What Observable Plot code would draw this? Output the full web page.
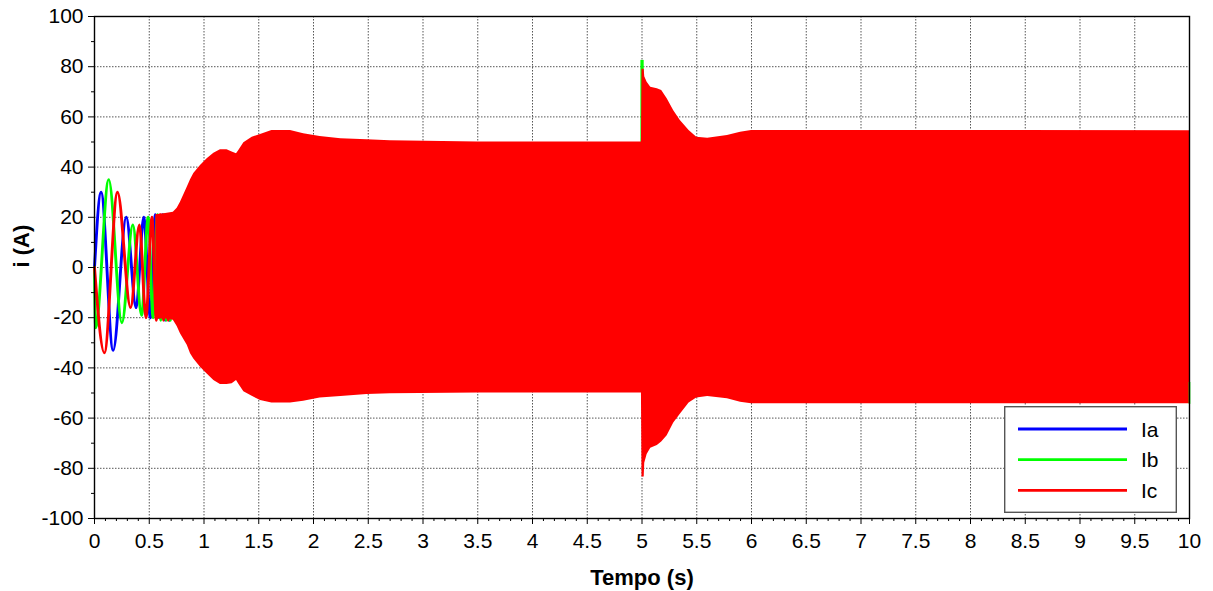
<!DOCTYPE html>
<html>
<head>
<meta charset="utf-8">
<script src="https://cdn.jsdelivr.net/npm/d3@7"></script>
<script src="https://cdn.jsdelivr.net/npm/@observablehq/plot@0.6"></script>
<style>
  html, body { margin: 0; padding: 0; background: white; }
  #wrap { position: relative; width: 1213px; height: 591px; font-family: "Liberation Sans", Arial, sans-serif; }
  #legend { position: absolute; left: 1004px; top: 406px; }
</style>
</head>
<body>
<div id="wrap"></div>
<script>
// ---- Data ----
// Early (start-up) oscillations: extremes of each phase current
const iaT = [0, 0.06, 0.17, 0.29, 0.38, 0.45, 0.51, 0.555, 0.59, 0.62, 0.645, 0.665, 0.683, 0.7];
const iaV = [0, 30, -33, 20, -16, 20, -20, 21, -20, 21, -21, 21, -21, 21];
const ibT = [0, 0.01, 0.13, 0.25, 0.35, 0.43, 0.49, 0.535, 0.575, 0.605, 0.635, 0.655, 0.675, 0.692];
const ibV = [0, -24, 35, -22, 17, -19, 20, -20, 21, -21, 21, -21, 21, -21];
const icT = [0, 0.09, 0.21, 0.33, 0.41, 0.47, 0.525, 0.565, 0.6, 0.63, 0.652, 0.672, 0.69];
const icV = [0, -34, 30, -16, 17, -20, 20, -21, 21, -21, 21, -21, 21];

// Envelope of the dense 60 Hz oscillation (upper / lower)
const envT  = [0.56, 0.65, 0.72, 0.755, 0.785, 0.847, 0.877, 0.907, 0.968, 1.029, 1.09, 1.15, 1.21, 1.257, 1.297, 1.318, 1.364, 1.44, 1.516, 1.62, 1.79, 1.91, 2.06, 2.25, 2.49, 2.7, 3.5, 4.995, 5.0, 5.02, 5.025, 5.047, 5.08, 5.14, 5.18, 5.23, 5.29, 5.35, 5.43, 5.5, 5.6, 5.78, 5.9, 6.0, 10.0];
const envHi = [21, 21.5, 22, 23.6, 26, 32, 35, 37.5, 40.6, 43.3, 45.5, 46.9, 46.9, 46, 45.3, 46.6, 49.7, 51.9, 53, 54.6, 54.6, 53.3, 52.2, 51.3, 50.9, 50.5, 50, 50, 79, 79, 76, 73.8, 71.8, 71.2, 70.5, 67.2, 62.5, 58.6, 54.6, 51.9, 51.5, 52.6, 53.9, 54.6, 54.5];
const envLo = [-20.5, -20.5, -21, -23.5, -26.4, -31, -34.4, -36.5, -39.7, -42.4, -45, -46.6, -46.6, -46.3, -45, -46.5, -49.5, -51.3, -53, -54, -54, -53.3, -52, -51.4, -50.6, -50.3, -50, -50, -83.5, -83.5, -78, -74.5, -72, -70.9, -69.5, -67, -62, -58.5, -54, -52, -51.4, -52.3, -53.7, -54.3, -54.3];

// Ib overshoot at t = 5 s and last sample at t = 10 s
const ibSpikeT = [4.99, 5.02];
const ibSpikeHi = [82.5, 82.5];
const ibEndT = [10, 10];
const ibEndV = [-45.8, -54.2];

// Axis ticks
const xTicks = d3.range(0, 20.5, 1).map(i => i / 2);
const xMinor = d3.range(0, 101).filter(i => i % 5 !== 0).map(i => i / 10);
const yTicks = d3.range(-100, 101, 20);
const yMinor = d3.range(-90, 100, 20);

const series = [
  {name: "Ia", color: "#0000ff"},
  {name: "Ib", color: "#00ff00"},
  {name: "Ic", color: "#ff0000"}
];

// ---- Build tables ----
const toRows = (ts, vs) => ts.map((t, i) => ({t, v: vs[i]}));
const ia = toRows(iaT, iaV), ib = toRows(ibT, ibV), ic = toRows(icT, icV);
const env = envT.map((t, i) => ({t, hi: envHi[i], lo: envLo[i]}));
const ibSpike = ibSpikeT.map((t, i) => ({t, hi: ibSpikeHi[i], lo: 0}));
const ibEnd = toRows(ibEndT, ibEndV);

const font = "'Liberation Sans', Arial, Helvetica, sans-serif";
const gridStyle = {stroke: "#444", strokeOpacity: 0.9, strokeDasharray: "1.5,1.5", strokeWidth: 1};

const chart = Plot.plot({
  width: 1213,
  height: 591,
  marginLeft: 94,
  marginRight: 24,
  marginTop: 16,
  marginBottom: 73,
  x: {domain: [0, 10], label: null},
  y: {domain: [-100, 100], label: null},
  style: {fontFamily: font, color: "black", background: "white", overflow: "visible"},
  marks: [
    Plot.gridX(xTicks, gridStyle),
    Plot.gridY(yTicks, gridStyle),
    Plot.line(ia, {x: "t", y: "v", stroke: series[0].color, strokeWidth: 2.9, curve: "monotone-x"}),
    Plot.line(ib, {x: "t", y: "v", stroke: series[1].color, strokeWidth: 2.9, curve: "monotone-x"}),
    Plot.line(ic, {x: "t", y: "v", stroke: series[2].color, strokeWidth: 2.9, curve: "monotone-x"}),
    Plot.areaY(ibSpike, {x: "t", y1: "lo", y2: "hi", fill: series[1].color}),
    Plot.areaY(env, {x: "t", y1: "lo", y2: "hi", fill: series[2].color}),
    Plot.line(ibEnd, {x: "t", y: "v", stroke: series[1].color, strokeWidth: 1.6}),
    Plot.axisX(xTicks, {tickSize: 6, tickPadding: 9, fontSize: 21, label: null, tickFormat: d => String(d)}),
    Plot.axisX(xMinor, {tickSize: 3, label: null, tickFormat: () => ""}),
    Plot.axisY(yTicks, {tickSize: 6, tickPadding: 5, fontSize: 21, label: null, tickFormat: d => String(d)}),
    Plot.axisY(yMinor, {tickSize: 3, label: null, tickFormat: () => ""}),
    Plot.frame({stroke: "black", strokeWidth: 1.4}),
    Plot.text(["Tempo (s)"], {frameAnchor: "bottom", dy: 59, fontSize: 22, fontWeight: "bold", lineAnchor: "middle"}),
    Plot.text(["i (A)"], {frameAnchor: "left", dx: -73, rotate: -90, fontSize: 22, fontWeight: "bold", lineAnchor: "middle"})
  ]
});

const wrap = document.getElementById("wrap");
wrap.appendChild(chart);

// ---- Legend (in-plot box, lower right) ----
const ns = "http://www.w3.org/2000/svg";
const leg = document.createElementNS(ns, "svg");
leg.setAttribute("id", "legend");
leg.setAttribute("width", 173);
leg.setAttribute("height", 108);
leg.setAttribute("font-family", font);
const box = document.createElementNS(ns, "rect");
box.setAttribute("x", 0.7); box.setAttribute("y", 0.7);
box.setAttribute("width", 171.6); box.setAttribute("height", 105.6);
box.setAttribute("fill", "white"); box.setAttribute("stroke", "#555"); box.setAttribute("stroke-width", 1.4);
leg.appendChild(box);
series.forEach((s, i) => {
  const y = 23 + i * 30.7;
  const ln = document.createElementNS(ns, "line");
  ln.setAttribute("x1", 14); ln.setAttribute("x2", 123);
  ln.setAttribute("y1", y); ln.setAttribute("y2", y);
  ln.setAttribute("stroke", s.color); ln.setAttribute("stroke-width", 2.8);
  leg.appendChild(ln);
  const tx = document.createElementNS(ns, "text");
  tx.setAttribute("x", 137); tx.setAttribute("y", y + 7.5);
  tx.setAttribute("font-size", 21);
  tx.setAttribute("fill", "black");
  tx.textContent = s.name;
  leg.appendChild(tx);
});
wrap.appendChild(leg);
</script>
</body>
</html>
